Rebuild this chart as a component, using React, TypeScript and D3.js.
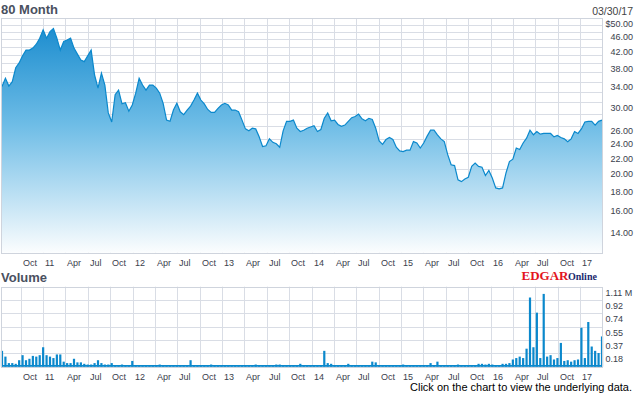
import * as d3 from "d3";

const W = 635;
const H = 395;

// closing prices every two weeks, first one 2010-07-16
const priceStart = new Date(2010, 6, 16);
const priceEnd = new Date(2017, 2, 31);
const stepDays = 14;

const prices = [
  33.0, 34.7, 33.1, 34.0, 37.0, 38.1, 39.8, 41.2, 41.2, 41.7,
  42.7, 44.3, 46.6, 44.3, 46.1, 47.0, 44.3, 41.2, 43.4, 43.8,
  44.3, 41.7, 40.2, 38.8, 38.4, 39.8, 41.2, 35.4, 32.7, 35.8,
  33.3, 28.1, 26.6, 31.4, 32.3, 29.7, 29.9, 28.4, 29.5, 31.7,
  34.7, 33.3, 32.3, 33.3, 33.3, 32.7, 31.7, 29.8, 26.9, 26.7,
  28.6, 29.8, 28.3, 27.8, 28.6, 29.3, 30.4, 31.7, 30.4, 29.7,
  28.7, 28.2, 28.2, 28.9, 29.5, 29.8, 29.5, 28.6, 28.6, 28.3,
  26.9, 25.5, 25.2, 25.6, 25.5, 24.3, 22.9, 23.0, 24.0, 23.5,
  23.3, 22.8, 25.2, 26.7, 26.7, 26.9, 25.6, 25.1, 25.3, 25.6,
  25.8, 26.0, 25.1, 25.4, 27.2, 28.1, 26.8, 26.9, 26.2, 25.9,
  26.1, 26.7, 27.3, 27.5, 27.9, 27.1, 26.8, 27.2, 27.0, 25.6,
  23.7, 23.2, 23.9, 24.2, 23.9, 22.8, 22.3, 22.2, 22.4, 22.4,
  23.6, 23.4, 22.7, 23.4, 24.4, 25.3, 25.3, 24.6, 24.0, 23.6,
  21.8, 20.5, 20.4, 18.7, 18.5, 18.8, 19.0, 20.3, 20.7, 20.3,
  20.2, 19.2, 19.8, 18.9, 17.8, 17.7, 17.8, 19.5, 20.9, 21.2,
  22.7, 22.5, 23.4, 24.1, 25.3, 24.6, 25.1, 24.7, 24.8, 24.8,
  24.8, 24.3, 24.5, 24.2, 24.0, 23.6, 24.0, 25.1, 24.8, 25.5,
  26.6, 26.7, 26.7, 26.1, 26.7, 26.9,
];

// volume in millions, same dates
const volumes = [
  0.22, 0.14, 0.05, 0.05, 0.04, 0.09, 0.16, 0.09, 0.11, 0.15,
  0.14, 0.16, 0.27, 0.16, 0.14, 0.12, 0.17, 0.17, 0.07, 0.05,
  0.05, 0.11, 0.06, 0.06, 0.04, 0.03, 0.03, 0.05, 0.09, 0.05,
  0.03, 0.03, 0.05, 0.02, 0.02, 0.03, 0.02, 0.02, 0.08, 0.02,
  0.02, 0.02, 0.02, 0.02, 0.02, 0.02, 0.03, 0.02, 0.02, 0.02,
  0.02, 0.02, 0.02, 0.02, 0.02, 0.09, 0.02, 0.02, 0.02, 0.02,
  0.02, 0.03, 0.02, 0.02, 0.02, 0.02, 0.02, 0.02, 0.02, 0.02,
  0.02, 0.02, 0.02, 0.02, 0.03, 0.02, 0.02, 0.02, 0.02, 0.02,
  0.03, 0.03, 0.02, 0.02, 0.02, 0.02, 0.02, 0.04, 0.02, 0.02,
  0.02, 0.02, 0.02, 0.02, 0.22, 0.05, 0.04, 0.02, 0.02, 0.02,
  0.02, 0.04, 0.02, 0.02, 0.02, 0.02, 0.02, 0.02, 0.07, 0.06,
  0.02, 0.02, 0.02, 0.02, 0.02, 0.02, 0.02, 0.03, 0.02, 0.02,
  0.02, 0.02, 0.02, 0.02, 0.02, 0.05, 0.02, 0.07, 0.02, 0.02,
  0.02, 0.02, 0.02, 0.03, 0.02, 0.02, 0.02, 0.02, 0.02, 0.04,
  0.04, 0.03, 0.04, 0.03, 0.02, 0.02, 0.04, 0.04, 0.05, 0.10,
  0.12, 0.14, 0.12, 0.25, 0.96, 0.27, 0.75, 0.12, 1.01, 0.14,
  0.16, 0.10, 0.12, 0.33, 0.08, 0.09, 0.07, 0.09, 0.10, 0.54,
  0.12, 0.62, 0.28, 0.22, 0.19, 0.42,
];

const priceGrid = [14, 16, 18, 20, 22, 24, 26, 28, 30, 32, 34, 36, 38, 40, 42, 44, 46, 48, 50];
const priceTicks = [50, 46, 42, 38, 34, 30, 26, 24, 22, 20, 18, 16, 14];
const volumeGrid = [0.185, 0.37, 0.555, 0.74, 0.925, 1.11];
const volumeTickLabels = ["1.11 M", "0.92", "0.74", "0.55", "0.37", "0.18"];
const quarterLabels = [
  "Oct", "11", "Apr", "Jul", "Oct", "12", "Apr", "Jul", "Oct", "13", "Apr", "Jul", "Oct",
  "14", "Apr", "Jul", "Oct", "15", "Apr", "Jul", "Oct", "16", "Apr", "Jul", "Oct", "17",
];

const FONT = "'Liberation Sans', Arial, sans-serif";
const GRID = "#d9dde5";
const BLUE = "#0b88cc";
const TEXT = "#3a404c";

export default function App() {
  const dates = prices.map((_, i) => d3.timeDay.offset(priceStart, i * stepDays));
  const quarters = quarterLabels.map((_, i) => new Date(2010, 9 + i * 3, 1));

  const left = 2;
  const right = 602;
  const x = d3.scaleTime().domain([priceStart, priceEnd]).range([left, right]);

  // price panel
  const pTop = 18.3;
  const pBottom = 252.7;
  const y = d3.scaleLog().domain([12, 50]).range([pBottom, pTop]);

  // volume panel
  const vTop = 286.7;
  const vBottom = 366.7;
  const yv = d3.scaleLinear().domain([0, 1.11]).range([vBottom, vTop]);

  const crisp = (v: number) => Math.round(v) + 0.5;

  const area = d3
    .area<number>()
    .x((_, i) => x(dates[i]))
    .y0(pBottom)
    .y1((d) => y(d));
  const line = d3
    .line<number>()
    .x((_, i) => x(dates[i]))
    .y((d) => y(d));

  const xLabels = (baseline: number) =>
    quarters.map((q, i) => (
      <text key={i} x={crisp(x(q)) + 1.5} y={baseline} fontSize={9} fill={TEXT}>
        {quarterLabels[i]}
      </text>
    ));

  const vGrid = (top: number, bottom: number) =>
    quarters.map((q, i) => (
      <line key={i} x1={crisp(x(q))} x2={crisp(x(q))} y1={top} y2={bottom} stroke={GRID} />
    ));

  return (
    <svg
      width={W}
      height={H}
      style={{ position: "absolute", left: 0, top: 0, background: "#fff" }}
      fontFamily={FONT}
    >
      <defs>
        <linearGradient id="priceFill" gradientUnits="userSpaceOnUse" x1={0} x2={0} y1={pTop} y2={pBottom}>
          <stop offset="0" stopColor="#1589cd" />
          <stop offset="0.45" stopColor="#6dbce6" />
          <stop offset="1" stopColor="#fbfdfe" />
        </linearGradient>
      </defs>

      {/* titles */}
      <text x={1} y={14} fontSize={13} fontWeight="bold" fill="#4a5060">80 Month</text>
      <text x={633} y={15} fontSize={10.5} fill="#444" textAnchor="end">03/30/17</text>

      {/* price grid */}
      {priceGrid.map((v) => (
        <line key={v} x1={left} x2={right} y1={crisp(y(v))} y2={crisp(y(v))} stroke={GRID} />
      ))}
      {vGrid(pTop, pBottom)}

      <path d={area(prices) ?? ""} fill="url(#priceFill)" />
      <path d={line(prices) ?? ""} fill="none" stroke={BLUE} strokeWidth={1.2} />

      <rect x={1.5} y={crisp(pTop)} width={right - 1} height={crisp(pBottom) - crisp(pTop)} fill="none" stroke="#cfd4dd" />

      {priceTicks.map((v, i) => (
        <text key={v} x={633} y={y(v) + 8.5} fontSize={9} fill={TEXT} textAnchor="end">
          {(i === 0 ? "$" : "") + v.toFixed(2)}
        </text>
      ))}
      {xLabels(266)}

      {/* volume */}
      <text x={1} y={281.5} fontSize={13} fontWeight="bold" fill="#4a5060">Volume</text>
      <g>
        <text x={521.5} y={280} fontFamily="'Liberation Serif', 'Times New Roman', serif" fontWeight="bold" fontSize={13} fill="#e3151d">EDGAR</text>
        <text x={568} y={280} fontFamily="'Liberation Serif', 'Times New Roman', serif" fontWeight="bold" fontSize={10} fill="#1b2a6e">Online</text>
      </g>

      {volumeGrid.map((v) => (
        <line key={v} x1={left} x2={right} y1={crisp(yv(v))} y2={crisp(yv(v))} stroke={GRID} />
      ))}
      {vGrid(vTop, vBottom)}

      {volumes.map((v, i) => (
        <rect
          key={i}
          x={x(dates[i]) - 1.1}
          y={yv(v)}
          width={2.2}
          height={vBottom - yv(v)}
          fill={BLUE}
        />
      ))}
      <line x1={left} x2={right} y1={vBottom - 0.8} y2={vBottom - 0.8} stroke={BLUE} strokeWidth={1.6} />

      <rect x={1.5} y={crisp(vTop)} width={right - 1} height={crisp(vBottom) - crisp(vTop)} fill="none" stroke="#cfd4dd" />

      {volumeGrid
        .slice()
        .reverse()
        .map((v, i) => (
          <text key={v} x={605.5} y={yv(v) + 8.8} fontSize={9} fill={TEXT}>
            {volumeTickLabels[i]}
          </text>
        ))}
      {xLabels(380)}

      <text x={632} y={391} fontSize={11} fill="#000" textAnchor="end">
        Click on the chart to view the underlying data.
      </text>
    </svg>
  );
}
